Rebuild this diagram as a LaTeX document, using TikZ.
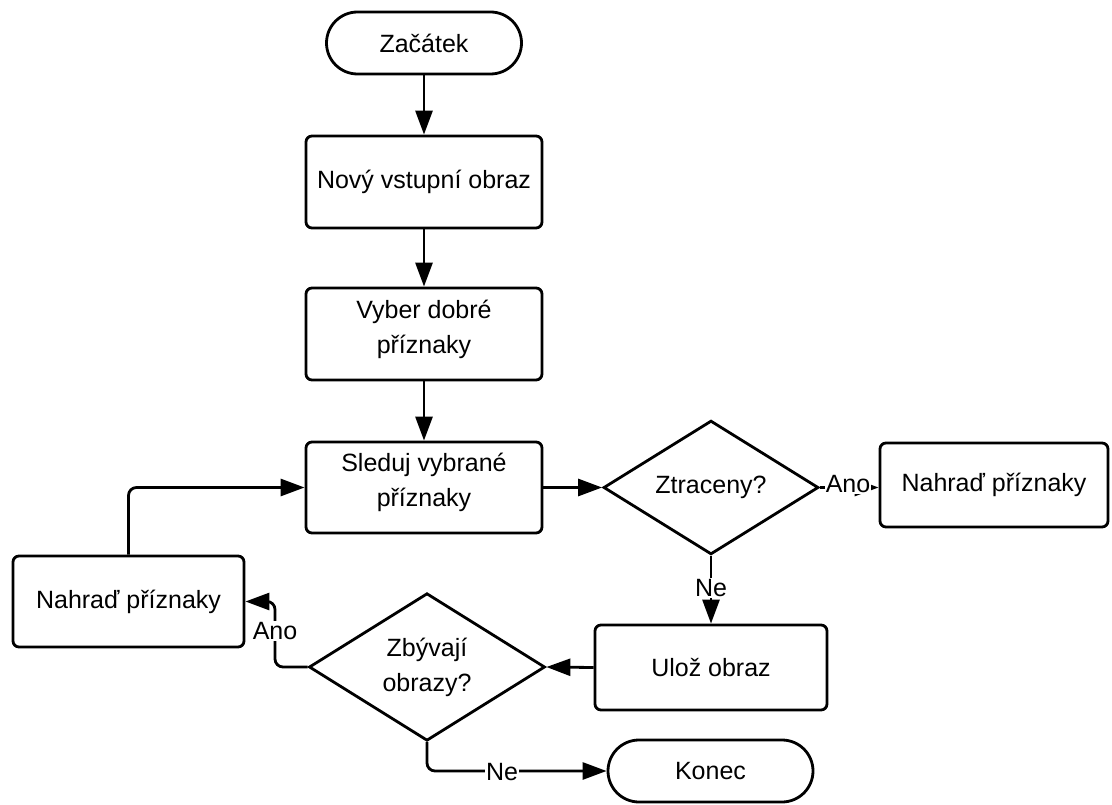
\documentclass[tikz,border=0pt]{standalone}
\usepackage{fontspec}
\setmainfont{Liberation Sans}
\usetikzlibrary{arrows.meta,shapes.geometric}
\begin{document}
\begin{tikzpicture}[x=1pt,y=-1pt,
  every node/.style={font=\fontsize{25}{35}\selectfont, text=black},
  conn/.style={line width=2.8pt, -{Triangle[length=24pt,width=17pt]}},
  procbox/.style={draw, line width=2.8pt, rounded corners=6pt, inner sep=0pt, align=center},
  termbox/.style={draw, line width=2.8pt, rounded corners=31pt, inner sep=0pt, minimum height=62pt},
  decbox/.style={draw, diamond, line width=2.8pt, inner sep=0pt, align=center},
  lbl/.style={fill=white, inner sep=1pt}
]
\useasboundingbox (0,0) rectangle (1112,805);
\node[termbox, minimum width=195pt] (start) at (424,43) {Začátek};
\node[procbox, minimum width=236pt, minimum height=92pt] (n1) at (424,182) {Nový vstupní obraz};
\node[procbox, minimum width=236pt, minimum height=92pt] (n2) at (424,334) {Vyber dobré\\příznaky\\[-20pt]};
\node[procbox, minimum width=236pt, minimum height=91pt] (n3) at (424,487.5) {Sleduj vybrané\\příznaky\\[-20pt]};
\node[decbox, minimum width=215pt, minimum height=133pt] (d1) at (711,487.5) {Ztraceny?};
\node[procbox, minimum width=228pt, minimum height=84pt] (rep1) at (994,485) {Nahraď příznaky};
\node[procbox, minimum width=231pt, minimum height=91pt] (rep2) at (128.5,601.5) {Nahraď příznaky};
\node[procbox, minimum width=232pt, minimum height=85pt] (save) at (711,667.5) {Ulož obraz};
\node[decbox, minimum width=236pt, minimum height=141pt] (d2) at (427,667) {Zbývají\\obrazy?};
\node[termbox, minimum width=205pt] (end) at (710.5,771) {Konec};
\coordinate (k1) at (275,667);

\draw[conn] (start) -- (n1);
\draw[conn] (n1) -- (n2);
\draw[conn] (n2) -- (n3);
\draw[conn] (n3.east) -- (d1.west);
\draw[conn] (d1.east) -- (d1.east -| rep1.west);
\node[lbl] (ano1) at (848,484) {Ano};
\draw[conn] (d1.south) -- (save.north);
\node[lbl] (ne1) at (711,588) {Ne};
\draw[conn] (save.west) -- (d2.east);
\draw[conn, rounded corners=8pt] (d2.west) -- (k1) |- (rep2.east);
\node[lbl] (ano2) at (275,631) {Ano};
\draw[conn, rounded corners=8pt] (rep2.north) |- (n3.west);
\draw[conn, rounded corners=8pt] (d2.south) |- (end.west);
\node[lbl] (ne2) at (502,772) {Ne};
\end{tikzpicture}
\end{document}
